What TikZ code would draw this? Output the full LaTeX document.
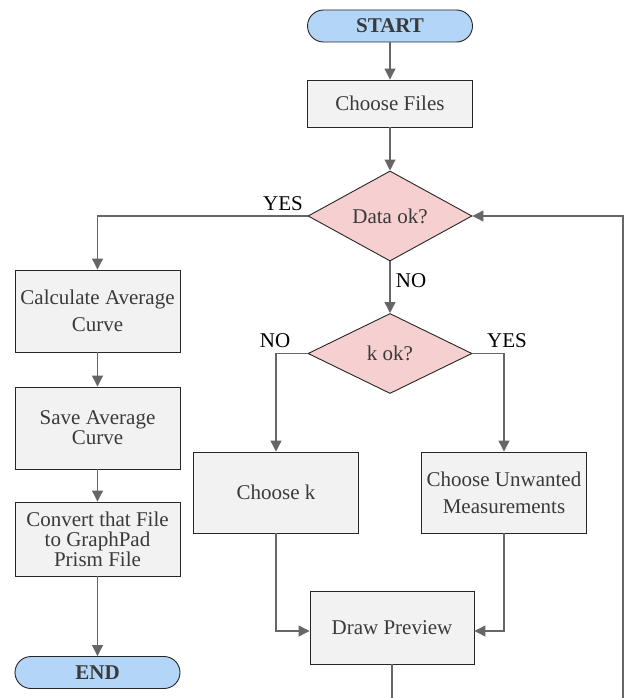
\documentclass[tikz,border=0pt]{standalone}
\usepackage{fontspec}
\setmainfont{Liberation Serif}
\newfontfamily\tmsfont{Liberation Serif}
\usetikzlibrary{arrows.meta,shapes.geometric,calc}
\definecolor{txt}{HTML}{3A3A3A}
\definecolor{edge}{HTML}{666666}
\definecolor{boxfill}{HTML}{F2F2F2}
\definecolor{decfill}{HTML}{F6CFD0}
\definecolor{termfill}{HTML}{B3D5F8}
\tikzset{
  base/.style={draw=black!85, line width=0.9pt, text=txt, inner sep=0pt, align=center, font=\tmsfont\fontsize{21}{21}\selectfont},
  procbox/.style={base, rectangle, fill=boxfill, minimum width=165pt},
  decbox/.style={base, diamond, fill=decfill, minimum width=164pt, minimum height=80pt},
  termbox/.style={base, rectangle, rounded corners=16pt, fill=termfill, minimum width=165pt, minimum height=32pt, font=\tmsfont\fontsize{21}{21}\selectfont\bfseries},
  conn/.style={draw=edge, line width=1.1pt, -{Triangle[width=11pt,length=11pt,fill=edge]}},
  plain/.style={draw=edge, line width=1.1pt},
  lbl/.style={text=black, inner sep=0pt, font=\tmsfont\fontsize{21}{21}\selectfont}
}
\begin{document}
\begin{tikzpicture}[x=1pt,y=-1pt]
\useasboundingbox (0,0) rectangle (625,698);
\node[termbox] (start) at (390,26) {START};
\node[procbox, minimum height=47pt] (files) at (390,103.5) {Choose Files};
\node[decbox] (data) at (390,216) {Data ok?};
\node[decbox] (kok) at (390,353.5) {k ok?};
\node[procbox, minimum height=81pt] (choosek) at (276,492.5) {Choose k};
\node[procbox, minimum height=81pt, font=\tmsfont\fontsize{21}{27}\selectfont] (unwanted) at (504,492.5) {Choose Unwanted\\Measurements};
\node[procbox, minimum height=73pt, minimum width=164pt] (preview) at (392,627.5) {Draw Preview};
\node[procbox, minimum height=82pt, font=\tmsfont\fontsize{21}{27}\selectfont] (calc) at (97.5,311) {Calculate Average\\Curve};
\node[procbox, minimum height=82pt, font=\tmsfont\fontsize{21}{20}\selectfont] (save) at (97.5,428) {Save Average\\Curve};
\node[procbox, minimum height=74pt, font=\tmsfont\fontsize{21}{20}\selectfont] (convert) at (97.5,539) {Convert that File\\to GraphPad\\Prism File};
\node[termbox] (end) at (97.5,672.5) {END};
\coordinate (loopA) at (392,698);
\coordinate (loopB) at (623,698);

\path[conn] (start) -- (files);
\path[conn] (files) -- (data);
\path[conn] (data.west) -| (calc.north);
\path[conn] (data.south) -- (kok.north);
\path[conn] (kok.west) -| (choosek.north);
\path[conn] (kok.east) -| (unwanted.north);
\path[conn] (choosek.south) |- ($(preview.west)+(0,3.5)$);
\path[conn] (unwanted.south) |- ($(preview.east)+(0,3.5)$);
\path[conn] (calc) -- (save);
\path[conn] (save) -- (convert);
\path[conn] (convert) -- (end);
\path[plain] (preview.south) -- (loopA);
\path[conn] (loopB) |- (data.east);

\node[lbl] (yes1) at (283,204) {YES};
\node[lbl] (no1) at (411,281) {NO};
\node[lbl] (no2) at (275,341) {NO};
\node[lbl] (yes2) at (507,341) {YES};
\end{tikzpicture}
\end{document}
